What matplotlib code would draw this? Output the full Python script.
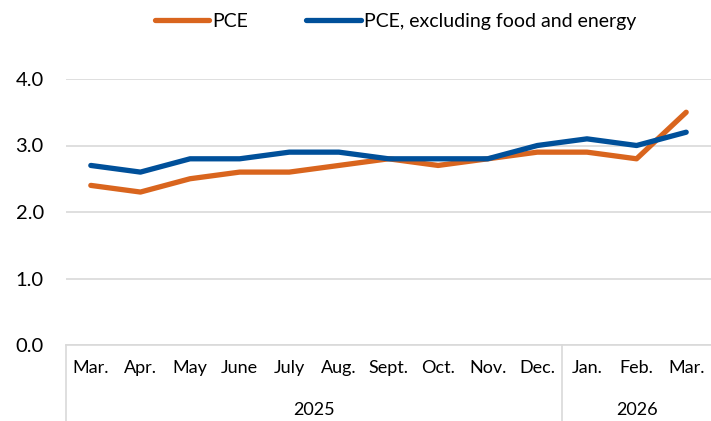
import numpy as np
import matplotlib.pyplot as plt

months = ["Mar.", "Apr.", "May", "June", "July", "Aug.", "Sept.", "Oct.", "Nov.", "Dec.", "Jan.", "Feb.", "Mar."]
pce = [2.4, 2.3, 2.5, 2.6, 2.6, 2.7, 2.8, 2.7, 2.8, 2.9, 2.9, 2.8, 3.5]
core = [2.7, 2.6, 2.8, 2.8, 2.9, 2.9, 2.8, 2.8, 2.8, 3.0, 3.1, 3.0, 3.2]
years = ["2025", "2026"]
year_span = [(0, 9), (10, 12)]

plt.rcParams['font.family'] = ['Lato', 'DejaVu Sans']

fig = plt.figure(figsize=(7.11, 4.21), dpi=100)
ax = fig.add_axes([66 / 711, 76 / 421, 645 / 711, 266 / 421])

x = np.arange(len(months))
orange = "#D9651E"
blue = "#00509A"
ax.plot(x, pce, color=orange, lw=3.8, label="PCE", clip_on=False, solid_capstyle="round")
ax.plot(x, core, color=blue, lw=3.8, label="PCE, excluding food and energy", clip_on=False, solid_capstyle="round")

ax.set_xlim(-0.5, len(months) - 0.5)
ax.set_ylim(0, 4)
ax.set_yticks([0, 1, 2, 3, 4])
ax.set_yticklabels([f"{v:.1f}" for v in [0, 1, 2, 3, 4]], fontsize=14.5)
ax.tick_params(axis="y", length=0, pad=16)
ax.grid(axis="y", color="#d9d9d9", lw=1.2)
ax.set_axisbelow(True)
for s in ["top", "right", "left"]:
    ax.spines[s].set_visible(False)
ax.spines["bottom"].set_color("#d9d9d9")
ax.spines["bottom"].set_linewidth(1.2)

ax.set_xticks(x)
ax.set_xticklabels(months, fontsize=13)
ax.tick_params(axis="x", length=0, pad=11)

# category box lines
for b in [-0.5, 9.5]:
    ax.plot([b, b], [0, -0.5], transform=ax.get_xaxis_transform(), color="#d9d9d9", lw=1.2, clip_on=False)

for name, (a, b) in zip(years, year_span):
    ax.annotate(name, xy=((a + b) / 2, 0), xycoords=("data", "axes fraction"),
                xytext=(0, -47), textcoords="offset points", ha="center", va="center", fontsize=13)

fig.legend(loc="upper center", bbox_to_anchor=(0.556, 1.01), ncol=2, frameon=False, fontsize=14,
           handlelength=2.8, columnspacing=3.0, handletextpad=0.15)

fig.savefig("out.png", dpi=100)
